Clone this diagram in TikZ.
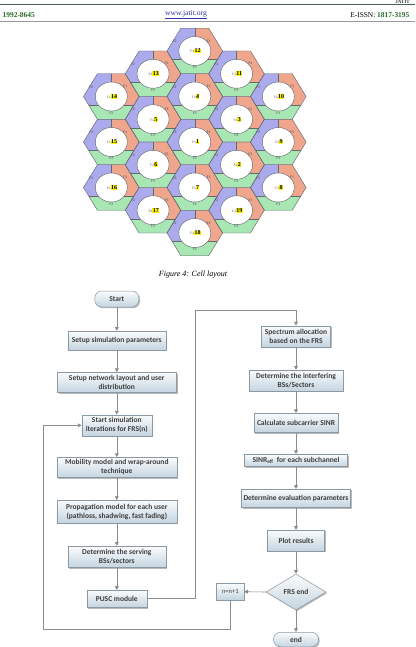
\documentclass[tikz,border=0pt]{standalone}
\usepackage{fontspec}
\setmainfont{Liberation Serif}
\newfontfamily\boxfont{Carlito}
\usetikzlibrary{shapes.geometric,shadows,arrows.meta,calc}

\definecolor{secblue}{RGB}{170,170,236}
\definecolor{secred}{RGB}{240,166,140}
\definecolor{secgreen}{RGB}{168,230,180}
\definecolor{hexedge}{RGB}{100,105,110}
\definecolor{boxtop}{RGB}{250,252,253}
\definecolor{boxbot}{RGB}{196,212,224}
\definecolor{boxedge}{RGB}{140,152,162}
\definecolor{boxtext}{RGB}{62,62,62}
\definecolor{arrowgray}{RGB}{140,140,140}
\definecolor{jgreen}{RGB}{40,105,40}
\definecolor{jblue}{RGB}{50,50,170}
\definecolor{hlyellow}{RGB}{255,245,0}

\newcommand{\cellnum}[1]{{\setlength{\fboxsep}{0.3pt}\colorbox{hlyellow}{\bfseries\fontsize{6}{6}\selectfont #1}}}

\newcommand{\hexfill}[2]{%
  \begin{scope}[shift={(#1,#2)}]
    \clip (-27.8,0) -- (-13.9,-22.75) -- (13.9,-22.75) -- (27.8,0) -- (13.9,22.75) -- (-13.9,22.75) -- cycle;
    \fill[secblue] (-29,-24) rectangle (0,8.5);
    \fill[secred] (0,-24) rectangle (29,8.5);
    \fill[secgreen] (-29,8.5) rectangle (29,24);
  \end{scope}}

\newcommand{\hexlines}[3]{%
  \begin{scope}[shift={(#1,#2)}]
    \draw[hexline] (0,-22.75) -- (0,0) (-22.6,8.5) -- (22.6,8.5);
    \draw[hexline] (-27.8,0) -- (-13.9,-22.75) -- (13.9,-22.75) -- (27.8,0) -- (13.9,22.75) -- (-13.9,22.75) -- cycle;
    \draw[hexline, fill=white] (0,0) ellipse [x radius=16, y radius=14.5];
    \node[seclbl] (fa#3) at (-20,-9.5) {F2};
    \node[seclbl] (fb#3) at (14,-10) {F1};
    \node[seclbl] (fc#3) at (0,16.5) {F3};
    \node[celllbl] (cl#3) at (0.8,0) {{\color{black!60}\fontsize{3.6}{4}\selectfont F4}\cellnum{#3}};
  \end{scope}}

\tikzset{
  hexline/.style={draw=hexedge, line width=0.45pt},
  seclbl/.style={font=\boxfont\fontsize{3.8}{4}\selectfont, text=black!70, inner sep=0pt},
  celllbl/.style={inner sep=0pt},
  fbox/.style={draw=boxedge, line width=0.5pt, top color=boxtop, bottom color=boxbot,
    drop shadow={shadow xshift=1.2pt, shadow yshift=-1.2pt, fill=black!50, opacity=.55},
    font=\boxfont\bfseries\fontsize{7.5}{8.8}\selectfont, text=boxtext, align=center, inner sep=1pt},
  term/.style={fbox, rounded corners=7pt},
  decision/.style={fbox, diamond, aspect=1.67, inner sep=0pt},
  conn/.style={draw=arrowgray, line width=0.6pt, -{Triangle[width=3.8pt,length=3.6pt]}},
  plain/.style={draw=arrowgray, line width=0.6pt}
}

\begin{document}
\begin{tikzpicture}[x=1pt,y=-1pt]
\useasboundingbox (0,0) rectangle (415,647);
\fill[white] (0,0) rectangle (415,647);

% header
\node[anchor=south east, font=\bfseries\fontsize{5}{5}\selectfont, text=black!80, inner sep=0pt] (logo) at (410,3.7) {JATIT};
\draw[line width=1.4pt, draw={rgb,255:red,70;green,100;blue,80}] (0,4.6) -- (415,4.6);
\draw[line width=0.4pt, draw=black!40] (0,21.4) -- (415,21.4);
\node[anchor=west, font=\bfseries\fontsize{7.4}{8}\selectfont, text=jgreen, inner sep=0pt] (issnp) at (2.5,14.7) {1992-8645};
\node[font=\fontsize{7.6}{8}\selectfont, text=jblue, inner sep=0pt] (www) at (186,14.7) {\underline{www.jatit.org}};
\node[anchor=east, font=\fontsize{7.4}{8}\selectfont, inner sep=0pt] (issne) at (409.5,14.7) {E-ISSN: \textbf{\color{jgreen}1817-3195}};

% cell layout
\foreach \cx/\cy/\n in {194.8/51/12, 194.8/96.5/4, 194.8/142/1, 194.8/187.5/7, 194.8/233/18,
  153.05/73.75/13, 153.05/119.25/5, 153.05/164.75/6, 153.05/210.25/17,
  236.55/73.75/11, 236.55/119.25/3, 236.55/164.75/2, 236.55/210.25/19,
  111.3/96.5/14, 111.3/142/15, 111.3/187.5/16,
  278.3/96.5/10, 278.3/142/9, 278.3/187.5/8}
  {\hexfill{\cx}{\cy}}
\foreach \cx/\cy/\n in {194.8/51/12, 194.8/96.5/4, 194.8/142/1, 194.8/187.5/7, 194.8/233/18,
  153.05/73.75/13, 153.05/119.25/5, 153.05/164.75/6, 153.05/210.25/17,
  236.55/73.75/11, 236.55/119.25/3, 236.55/164.75/2, 236.55/210.25/19,
  111.3/96.5/14, 111.3/142/15, 111.3/187.5/16,
  278.3/96.5/10, 278.3/142/9, 278.3/187.5/8}
  {\hexlines{\cx}{\cy}{\n}}

\node[font=\itshape\fontsize{8}{9}\selectfont] (cap) at (193,275) {Figure 4: Cell layout};

% flowchart left column
\node[term, minimum width=44pt, minimum height=16pt] (start) at (116.8,299) {Start};
\node[fbox, minimum width=98pt, minimum height=19pt] (b1) at (116.8,340.5) {Setup simulation parameters};
\node[fbox, minimum width=119pt, minimum height=20pt] (b2) at (116.8,382.3) {Setup network layout and user\\distribution};
\node[fbox, minimum width=70pt, minimum height=21pt] (b3) at (116.8,425.3) {Start simulation\\iterations for FRS(n)};
\node[fbox, minimum width=120pt, minimum height=20pt] (b4) at (116.8,467.3) {Mobility model and wrap-around\\technique};
\node[fbox, minimum width=120pt, minimum height=23pt] (b5) at (116.8,511.7) {Propagation model for each user\\(pathloss, shadwing, fast fading)};
\node[fbox, minimum width=98pt, minimum height=21.5pt] (b6) at (116.8,556.8) {Determine the serving\\BSs/sectors};
\node[fbox, minimum width=60pt, minimum height=17.3pt] (b7) at (116.8,598.7) {PUSC module};

% right column
\node[fbox, minimum width=69pt, minimum height=21.5pt] (r1) at (296,336.5) {Spectrum allocation\\based on the FRS};
\node[fbox, minimum width=94pt, minimum height=21pt] (r2) at (296,380.5) {Determine the interfering\\BSs/Sectors};
\node[fbox, minimum width=84pt, minimum height=19pt] (r3) at (296,422.8) {Calculate subcarrier SINR};
\node[fbox, minimum width=103pt, minimum height=12.4pt] (r4) at (296,460.5) {SINR\textsubscript{eff}\ \ for each subchannel};
\node[fbox, minimum width=109pt, minimum height=18.3pt] (r5) at (296,498.2) {Determine evaluation parameters};
\node[fbox, minimum width=56.6pt, minimum height=21pt] (r6) at (296,540.5) {Plot results};
\node[decision, minimum width=60pt, minimum height=36pt] (dia) at (296,592) {FRS end};
\node[fbox, minimum width=27.3pt, minimum height=16.7pt, font=\boxfont\fontsize{6.5}{7}\selectfont] (nn) at (230.3,591.7) {n=n+1};
\node[term, minimum width=45pt, minimum height=14.5pt] (end) at (296,639.5) {end};

% connectors
\draw[conn] (start) -- (b1);
\draw[conn] (b1) -- (b2);
\draw[conn] (b2) -- (b3);
\draw[conn] (b3) -- (b4);
\draw[conn] (b4) -- (b5);
\draw[conn] (b5) -- (b6);
\draw[conn] (b6) -- (b7);
\coordinate (ja) at (195,598.7);
\coordinate (jb) at (195,310.7);
\coordinate (jc) at (296,310.7);
\draw[conn] (b7.east) -- (ja) -- (jb) -- (jc) -- (r1.north);
\draw[conn] (r1) -- (r2);
\draw[conn] (r2) -- (r3);
\draw[conn] (r3) -- (r4);
\draw[conn] (r4) -- (r5);
\draw[conn] (r5) -- (r6);
\draw[conn] (r6) -- (dia);
\draw[conn] (dia.west) -- (nn.east);
\draw[conn] (dia.south) -- (end.north);
\coordinate (la) at (230.3,629.3);
\coordinate (lb) at (43.3,629.3);
\coordinate (lc) at (43.3,425.3);
\draw[conn] (nn.south) -- (la) -- (lb) -- (lc) -- (b3.west);
\end{tikzpicture}
\end{document}
